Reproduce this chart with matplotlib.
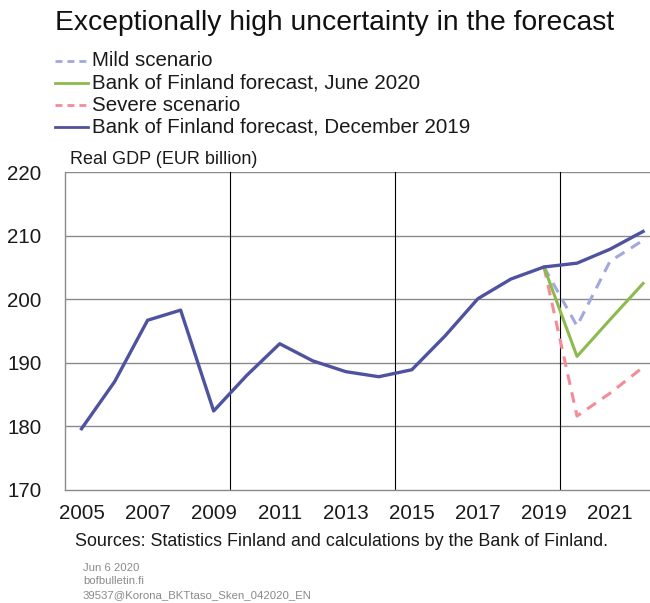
import matplotlib.pyplot as plt
import numpy as np

plt.rcParams['font.family'] = ['Liberation Sans', 'DejaVu Sans']

# real GDP, EUR billion
years = np.arange(2005, 2023)
gdp_dec2019 = [179.6, 187.0, 196.7, 198.3, 182.4, 188.0, 193.0, 190.3, 188.6,
               187.8, 188.9, 194.2, 200.1, 203.2, 205.1, 205.7, 207.9, 210.7]

scen_years = [2019, 2020, 2021, 2022]
gdp_mild = [205.1, 195.8, 206.0, 209.3]
gdp_june2020 = [205.1, 191.0, 196.8, 202.5]
gdp_severe = [205.1, 181.6, 185.2, 189.3]

tick_years = [2005, 2007, 2009, 2011, 2013, 2015, 2017, 2019, 2021]
yticks = [170, 180, 190, 200, 210, 220]

blue = '#4e529f'
mild_c = '#a3a8dc'
green = '#8cba4c'
red = '#f28c97'

fig = plt.figure(figsize=[6.5, 6.03], dpi=100)
ax = fig.add_axes([0.1, 0.188, 0.9, 0.526])

# gridlines: gray horizontals, black verticals every 5 years
for y in yticks[1:]:
    ax.axhline(y, color='#8a8a8a', lw=1.0, zorder=1)
for x in [2009.5, 2014.5, 2019.5]:
    ax.axvline(x, color='black', lw=0.8, zorder=1)

ax.plot(scen_years, gdp_mild, color=mild_c, lw=2.2, ls=(0, (3.5, 2.5)), zorder=3)
ax.plot(scen_years, gdp_june2020, color=green, lw=2.2, zorder=4)
ax.plot(scen_years, gdp_severe, color=red, lw=2.2, ls=(0, (3.5, 2.5)), zorder=3)
ax.plot(years, gdp_dec2019, color=blue, lw=2.4, zorder=5)

ax.set_xlim(2004.5, 2022.21)
ax.set_ylim(170, 220)
ax.set_xticks(tick_years)
ax.set_yticks(yticks)
ax.tick_params(length=0, labelsize=14.8, colors='#1a1a1a')
ax.tick_params(axis='x', pad=10)
ax.tick_params(axis='y', pad=17)
for s in ['top', 'right']:
    ax.spines[s].set_visible(False)
for s in ['left', 'bottom']:
    ax.spines[s].set_color('#8a8a8a')
    ax.spines[s].set_linewidth(1.0)

fig.text(55 / 650, 1 - 23 / 603, 'Exceptionally high uncertainty in the forecast',
         fontsize=20.3, va='center', color='#111111')

# legend drawn by hand at the top
leg = [('Mild scenario', mild_c, (0, (2.5, 1.8))),
       ('Bank of Finland forecast, June 2020', green, '-'),
       ('Severe scenario', red, (0, (2.5, 1.8))),
       ('Bank of Finland forecast, December 2019', blue, '-')]
for i, (lab, c, ls) in enumerate(leg):
    yf = 1 - (61 + i * 22.1) / 603
    fig.add_artist(plt.Line2D([55 / 650, 88 / 650], [yf, yf], color=c,
                              lw=2.0, ls=ls, transform=fig.transFigure))
    fig.text(92 / 650, yf, lab, fontsize=14.8, va='center', color='#1a1a1a')

fig.text(70 / 650, 1 - 159 / 603, 'Real GDP (EUR billion)', fontsize=13,
         va='center', color='#1a1a1a')

fig.text(75 / 650, 1 - 542 / 603,
         'Sources: Statistics Finland and calculations by the Bank of Finland.',
         fontsize=12.9, va='center', color='#1a1a1a')

for i, t in enumerate(['Jun 6 2020', 'bofbulletin.fi',
                       '39537@Korona_BKTtaso_Sken_042020_EN']):
    fig.text(83 / 650, 1 - (568 + i * 13.5) / 603, t, fontsize=8.2,
             va='center', color='#8a8a8a')

fig.savefig('out.png', dpi=100)
